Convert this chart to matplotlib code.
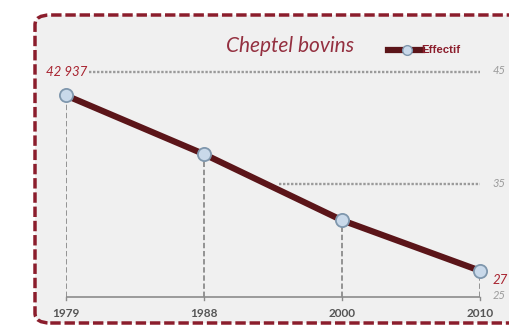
import matplotlib
matplotlib.use("Agg")
import matplotlib.pyplot as plt
from matplotlib.patches import FancyBboxPatch
from matplotlib.lines import Line2D

years = ["1979", "1988", "2000", "2010"]
effectif = [42937, 37700, 31800, 27300]
grid_values = [45, 35, 25]
title = "Cheptel bovins"
legend_label = "Effectif"
first_label = "42 937"
last_label = "27"

W, H = 509, 327
fig = plt.figure(figsize=(W / 100, H / 100), dpi=100)
fig.patch.set_facecolor("white")

# background panel with dashed rounded border
panel = FancyBboxPatch((35 / W, 4 / H), (540 - 35) / W, (312 - 4) / H,
                       boxstyle="round,pad=0,rounding_size=0.03",
                       transform=fig.transFigure, facecolor="#f0f0f0",
                       edgecolor="#8b1d2c", linewidth=2.5,
                       linestyle=(0, (3.0, 1.1)), zorder=-5)
fig.patches.append(panel)

x0, x1 = 66, 480
y0, y1 = 296.5, 72.3
ax = fig.add_axes([x0 / W, (H - y0) / H, (x1 - x0) / W, (y0 - y1) / H])
ax.set_zorder(2)
ax.set_xlim(0, 3)
ax.set_ylim(25, 45)
ax.axis("off")

xs = list(range(len(years)))
ys = [v / 1000 for v in effectif]

grey = "#9a9a9a"
# dotted horizontal guides
ax.hlines(45, 0.165, 3, colors=grey, linestyles=(0, (1, 0.7)), linewidth=1.7,
          zorder=1, clip_on=False)
ax.hlines(35, 1.54, 3, colors=grey, linestyles=(0, (1, 0.7)), linewidth=1.7,
          zorder=1, clip_on=False)
# baseline
ax.hlines(25, 0, 3, colors="#8c8c8c", linewidth=1.2, zorder=1, clip_on=False)
for x in xs:
    ax.plot([x, x], [25, 24.65], color="#8c8c8c", linewidth=1.0, clip_on=False, zorder=1)
# drop lines
for x, y in zip(xs, ys):
    ax.plot([x, x], [25, y], color="#8c8c8c", linestyle=(0, (3, 1.5)),
            linewidth=1.3, zorder=2)

line_color = "#5b1519"
ax.plot(xs, ys, color=line_color, linewidth=4.5, solid_capstyle="butt",
        zorder=3, clip_on=False)
ax.plot(xs, ys, linestyle="none", marker="o", markersize=9.5,
        markerfacecolor="#c9d9ea", markeredgecolor="#7f97ad",
        markeredgewidth=1.3, zorder=4, clip_on=False)

# x labels
for x, lab in zip(xs, years):
    ax.annotate(lab, (x, 25), xytext=(0, -12), textcoords="offset points",
                ha="center", va="center", fontsize=8.5, fontweight="bold",
                color="#555555", family="Lato")

# right-side grid labels
for g in grid_values:
    ax.annotate(str(g), (3, g), xytext=(9, 1), textcoords="offset points",
                ha="left", va="center", fontsize=8, style="italic",
                color="#9a9a9a", family="Lato")

red = "#a8232f"
ax.annotate(first_label, (0, 45), xytext=(15, 0), textcoords="offset points",
            ha="right", va="center", fontsize=9.5, style="italic",
            color=red, family="Lato")
ax.annotate(last_label, (3, ys[-1]), xytext=(9, -7), textcoords="offset points",
            ha="left", va="center", fontsize=9.5, style="italic",
            color=red, family="Lato")

# title
fig.text(290 / W, 1 - 52 / H, title, ha="center", va="baseline", fontsize=15,
         style="italic", color="#943040", family="Lato")

# legend
leg_y = 1 - 50 / H
fig.add_artist(Line2D([388 / W, 422 / W], [leg_y, leg_y], transform=fig.transFigure,
                      color=line_color, linewidth=4.5))
fig.add_artist(Line2D([407 / W], [leg_y], transform=fig.transFigure, marker="o",
                      markersize=7, markerfacecolor="#c9d9ea",
                      markeredgecolor="#7f97ad", markeredgewidth=1))
fig.text(421 / W, leg_y, legend_label, ha="left", va="center", fontsize=8.2,
         fontweight="bold", color="#8b1d2c", family="Liberation Sans")

fig.savefig("out.png", dpi=100, facecolor="white")
